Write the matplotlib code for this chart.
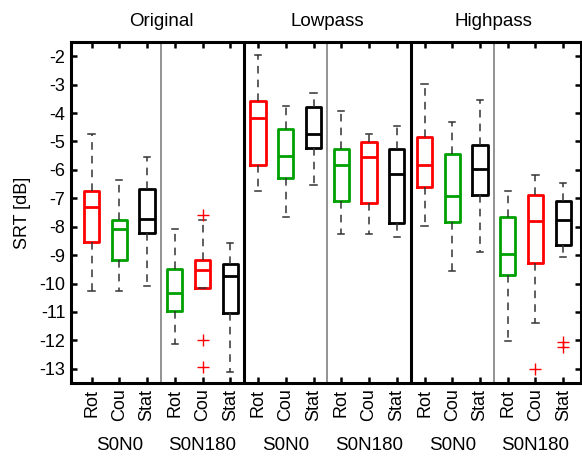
import matplotlib
matplotlib.use("Agg")
import matplotlib.pyplot as plt
import matplotlib.transforms as mtransforms

plt.rcParams['font.family'] = ['Liberation Sans', 'DejaVu Sans']
plt.rcParams['axes.unicode_minus'] = False

# ---- data ----
conditions = ["Original", "Lowpass", "Highpass"]
setups = ["S0N0", "S0N180"]
methods = ["Rot", "Cou", "Stat"]

whishi = [-4.75, -6.37, -5.54, -8.07, -7.77, -8.58,
          -1.96, -3.75, -3.31, -3.93, -4.74, -4.44,
          -2.99, -4.31, -3.54, -6.75, -6.17, -6.46]
q3 = [-6.73, -7.75, -6.69, -9.50, -9.18, -9.31,
      -3.57, -4.57, -3.77, -5.27, -5.02, -5.27,
      -4.83, -5.44, -5.14, -7.65, -6.87, -7.10]
med = [-7.30, -8.07, -7.72, -10.35, -9.53, -9.73,
       -4.16, -5.50, -4.73, -5.84, -5.53, -6.15,
       -5.84, -6.93, -5.97, -8.97, -7.80, -7.77]
q1 = [-8.54, -9.18, -8.22, -10.96, -10.17, -11.04,
      -5.82, -6.29, -5.23, -7.08, -7.16, -7.87,
      -6.60, -7.85, -6.87, -9.71, -9.26, -8.64]
whislo = [-10.27, -10.27, -10.10, -12.12, -10.17, -13.11,
          -6.75, -7.65, -6.54, -8.25, -8.25, -8.35,
          -7.96, -9.56, -8.88, -12.01, -11.39, -9.07]
fliers = [[], [], [], [], [-7.6, -12.0, -12.92], [],
          [], [], [], [], [], [],
          [], [], [], [], [-13.0], [-12.04, -12.22]]
box_colors = ["#ff0000", "#00a000", "#000000", "#00a000", "#ff0000", "#000000"] * 3

# ---- figure ----
fig = plt.figure(figsize=(5.82, 4.59), dpi=100)
ax = fig.add_axes([71 / 582, 1 - 383 / 459, 510 / 582, 341 / 459])

positions = list(range(1, 19))
stats = []
for i in range(18):
    stats.append(dict(med=med[i], q1=q1[i], q3=q3[i],
                      whislo=whislo[i], whishi=whishi[i], fliers=fliers[i]))

bp = ax.bxp(stats, positions=positions, widths=0.55, showfliers=True,
            boxprops=dict(linewidth=2.0),
            medianprops=dict(linewidth=2.0),
            whiskerprops=dict(linestyle=(0, (5, 4)), linewidth=1.1, color='#333333'),
            capprops=dict(linewidth=1.1, color='#333333'),
            flierprops=dict(marker='+', markeredgecolor='#ff0000', markersize=8,
                            markeredgewidth=1.0, linestyle='none'),
            capwidths=0.22)

for i, c in enumerate(box_colors):
    bp['boxes'][i].set_color(c)
    bp['medians'][i].set_color(c)

# separators
for x in [3.5, 9.5, 15.5]:
    ax.axvline(x, color='#808080', linewidth=1.2, zorder=0)
for x in [6.5, 12.5]:
    ax.axvline(x, color='black', linewidth=2.2, zorder=3)

ax.set_xlim(0.26, 18.64)
ax.set_ylim(-13.5, -1.5)
ax.set_yticks(range(-13, -1))
ax.set_xticks(positions)
ax.set_xticklabels(methods * 6, rotation=90, fontsize=13)
ax.tick_params(axis='y', labelsize=13)
ax.tick_params(direction='in', length=4, width=1.8, top=True, right=True, pad=4)
for sp in ax.spines.values():
    sp.set_linewidth(2.2)

ax.set_ylabel("SRT [dB]", fontsize=13, labelpad=6)

trans = mtransforms.blended_transform_factory(ax.transData, fig.transFigure)
for ci, cond in enumerate(conditions):
    ax.text(3.5 + 6 * ci, 1 - 21 / 459, cond, transform=trans,
            ha='center', va='center', fontsize=13.5)
    for si, s in enumerate(setups):
        ax.text(2 + 6 * ci + 3 * si, 1 - 446 / 459, s, transform=trans,
                ha='center', va='center', fontsize=13.5)

fig.savefig("out.png", dpi=100)
